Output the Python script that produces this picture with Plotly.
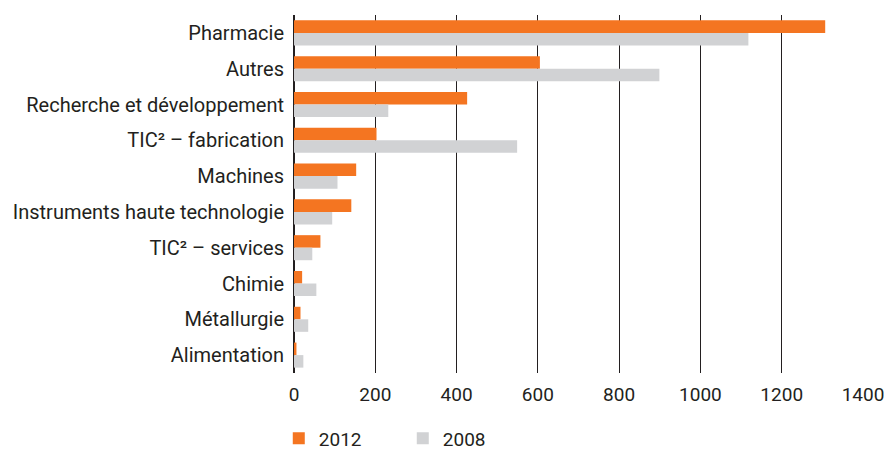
import plotly.graph_objects as go

categories = ["Pharmacie", "Autres", "Recherche et développement", "TIC² – fabrication",
              "Machines", "Instruments haute technologie", "TIC² – services", "Chimie",
              "Métallurgie", "Alimentation"]
values_2012 = [1307, 605, 426, 203, 153, 141, 65, 20, 16, 6]
values_2008 = [1118, 899, 232, 549, 107, 94, 45, 55, 35, 23]
x_ticks = [0, 200, 400, 600, 800, 1000, 1200, 1400]

ORANGE = "#F47521"
GREY = "#D1D2D4"
FONT = "Roboto"
TEXT = "#231F20"

fig = go.Figure()
fig.add_trace(go.Bar(y=categories, x=values_2012, orientation="h", name="2012",
                     marker=dict(color=ORANGE, line=dict(width=0))))
fig.add_trace(go.Bar(y=categories, x=values_2008, orientation="h", name="2008",
                     marker=dict(color=GREY, line=dict(width=0))))

fig.update_layout(
    width=885, height=453,
    margin=dict(l=294, r=22, t=15, b=80),
    barmode="group", bargap=0.3, bargroupgap=0,
    plot_bgcolor="white", paper_bgcolor="white",
    font=dict(family=FONT, size=20, color=TEXT),
    xaxis=dict(range=[0, 1400], tickvals=x_ticks, showgrid=True, gridcolor=TEXT,
               gridwidth=1, zeroline=True, zerolinecolor=TEXT, zerolinewidth=1.5,
               ticks="", ticklabelstandoff=8, showline=False, automargin=False,
               tickfont=dict(size=19), fixedrange=True),
    yaxis=dict(autorange="reversed", showgrid=False, ticks="", ticklabelstandoff=9,
               tickfont=dict(size=20), showline=False, automargin=False),
    legend=dict(orientation="h", xref="container", yref="container",
                x=0.315, xanchor="left", y=0.032, yanchor="middle",
                traceorder="normal", entrywidth=79, entrywidthmode="pixels",
                font=dict(size=19)),
)

fig.write_html("out.html", config={"displayModeBar": False},
               post_script="document.body.style.margin='0';")
